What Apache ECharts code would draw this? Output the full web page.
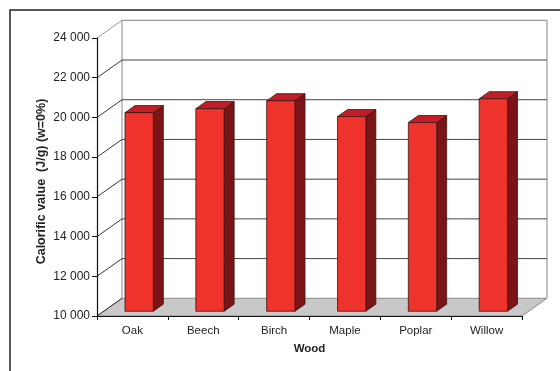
<!DOCTYPE html>
<html>
<head>
<meta charset="utf-8">
<script src="https://cdn.jsdelivr.net/npm/echarts@6/dist/echarts.min.js"></script>
<style>html,body{margin:0;padding:0;background:#fff;}#c{width:560px;height:371px;}</style>
</head>
<body>
<div id="c"></div>
<script>
var categories = ['Oak', 'Beech', 'Birch', 'Maple', 'Poplar', 'Willow'];
var calorificValues = [20000, 20200, 20600, 19800, 19500, 20700];
var yTicks = [10000, 12000, 14000, 16000, 18000, 20000, 22000, 24000];
var yTitle = 'Calorific value  (J/g) (w=0%)';
var xTitle = 'Wood';

var DX = 25, DY = -17.7;      // depth vector of the 3D box
var F = 0.27, BD = 0.4;        // bar front position and bar depth (fractions of depth)
var FONT = '"Liberation Sans", Arial, sans-serif';

function fmt(v) {
  return String(v).replace(/\B(?=(\d{3})+(?!\d))/g, ' ');
}

function renderWalls(params, api) {
  var cs = params.coordSys;
  var t = api.value(0);
  var p = api.coord([0, t]);
  var gx = cs.x, gw = cs.width;
  var y = p[1];
  var children = [];
  var yMin = yTicks[0], yMax = yTicks[yTicks.length - 1];
  if (t === yMin) {
    var yb = api.coord([0, yMin])[1];
    var yt = api.coord([0, yMax])[1];
    children.push({
      type: 'polygon',
      shape: { points: [[gx, yb], [gx + gw, yb], [gx + gw + DX, yb + DY], [gx + DX, yb + DY]] },
      style: { fill: '#c8c8c8', stroke: '#8a8a8a', lineWidth: 1 }
    });
    children.push({ type: 'line', shape: { x1: gx, y1: yb, x2: gx + DX, y2: yb + DY }, style: { stroke: '#333', lineWidth: 1 } });
    children.push({ type: 'line', shape: { x1: gx + DX, y1: yt + DY, x2: gx + DX, y2: yb + DY }, style: { stroke: '#9a9a9a', lineWidth: 1.2 } });
    children.push({ type: 'line', shape: { x1: gx + gw + DX, y1: yt + DY, x2: gx + gw + DX, y2: yb + DY }, style: { stroke: '#9a9a9a', lineWidth: 1.2 } });
  } else {
    var isTop = t === yMax;
    children.push({ type: 'line', shape: { x1: gx, y1: y, x2: gx + DX, y2: y + DY }, style: { stroke: isTop ? '#999' : '#333', lineWidth: 1 } });
    children.push({ type: 'line', shape: { x1: gx + DX, y1: y + DY, x2: gx + gw + DX, y2: y + DY }, style: { stroke: isTop ? '#999' : '#444', lineWidth: isTop ? 1.2 : 1 } });
  }
  return { type: 'group', children: children };
}

function renderBar(params, api) {
  var i = api.value(0), v = api.value(1);
  var top = api.coord([i, v]);
  var bot = api.coord([i, yTicks[0]]);
  var bw = api.size([1, 0])[0] * 0.4;
  var ox = DX * F, oy = DY * F, dx = DX * BD, dy = DY * BD;
  var x0 = top[0] - bw / 2 + ox, x1 = x0 + bw;
  var yt = top[1] + oy, yb = bot[1] + oy;
  var st = { stroke: '#3a1414', lineWidth: 0.8, lineJoin: 'round' };
  return {
    type: 'group',
    children: [
      { type: 'polygon', shape: { points: [[x1, yt], [x1 + dx, yt + dy], [x1 + dx, yb + dy], [x1, yb]] },
        style: Object.assign({ fill: '#7a1416' }, st) },
      { type: 'polygon', shape: { points: [[x0, yt], [x0 + dx, yt + dy], [x1 + dx, yt + dy], [x1, yt]] },
        style: Object.assign({ fill: '#c01f28' }, st) },
      { type: 'polygon', shape: { points: [[x0, yt], [x1, yt], [x1, yb], [x0, yb]] },
        style: Object.assign({ fill: '#ee332c' }, st) }
    ]
  };
}

var chart = echarts.init(document.getElementById('c'), null, { renderer: 'canvas' });
chart.setOption({
  animation: false,
  backgroundColor: '#fff',
  graphic: [{
    type: 'rect', z: 0,
    shape: { x: 10, y: 10, width: 620, height: 420 },
    style: { fill: 'none', stroke: '#222', lineWidth: 1.5 }
  }, {
    type: 'text', z: 5,
    x: 41.5, y: 181.5, rotation: Math.PI / 2,
    style: {
      text: yTitle, fill: '#222', font: 'bold 12.5px ' + FONT,
      align: 'center', verticalAlign: 'middle'
    }
  }],
  grid: { left: 97, right: 38, top: 38, bottom: 55 },
  xAxis: {
    type: 'category',
    data: categories,
    z: 5,
    boundaryGap: true,
    axisLine: { lineStyle: { color: '#111', width: 1.2 } },
    axisTick: { show: true, length: 4, lineStyle: { color: '#111' } },
    axisLabel: { color: '#222', fontSize: 11.5, fontFamily: FONT, margin: 9 },
    name: xTitle,
    nameLocation: 'middle',
    nameGap: 27,
    nameTextStyle: { color: '#222', fontSize: 11.5, fontWeight: 'bold', fontFamily: FONT }
  },
  yAxis: {
    type: 'value',
    min: 10000, max: 24000, interval: 2000,
    z: 5,
    axisLine: { show: true, lineStyle: { color: '#111', width: 1.2 } },
    axisTick: { show: true, length: 5, lineStyle: { color: '#111' } },
    splitLine: { show: false },
    axisLabel: { color: '#222', fontSize: 12, fontFamily: FONT, margin: 7, formatter: fmt }
  },
  series: [
    {
      type: 'custom',
      z: 1,
      renderItem: renderWalls,
      data: yTicks.map(function (t) { return [t]; }),
      encode: { y: 0 },
      silent: true
    },
    {
      type: 'custom',
      z: 3,
      renderItem: renderBar,
      data: calorificValues.map(function (v, i) { return [i, v]; }),
      encode: { x: 0, y: 1 }
    }
  ]
});
</script>
</body>
</html>
